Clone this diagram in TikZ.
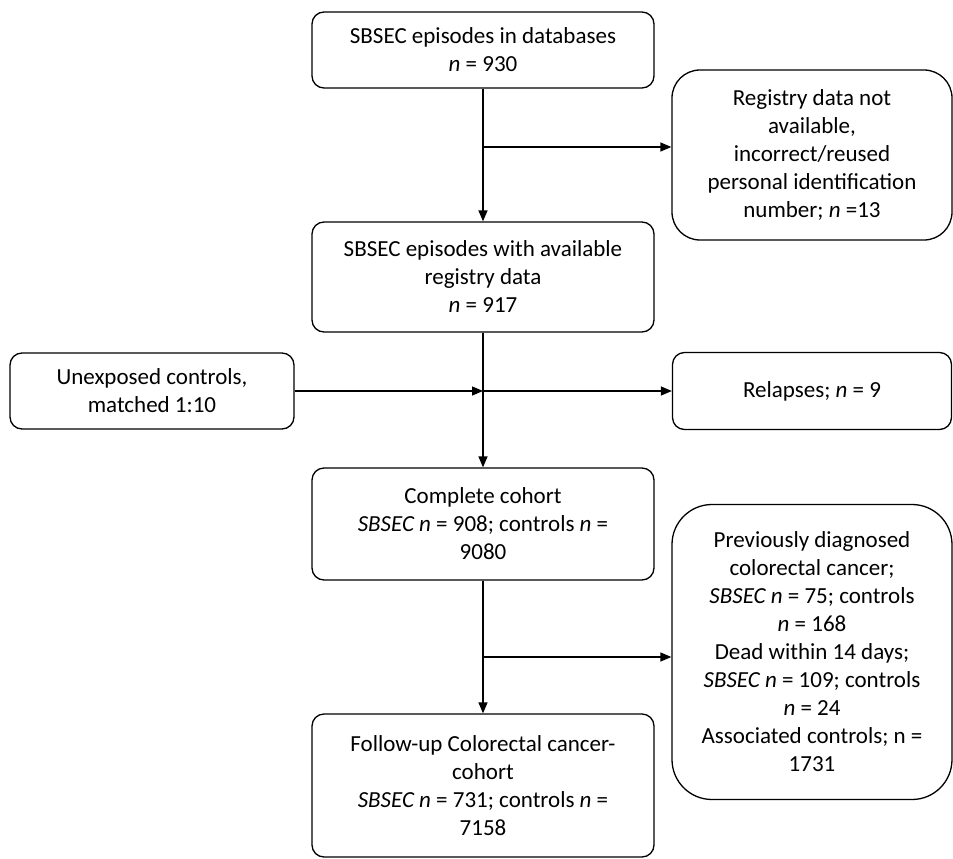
\documentclass[tikz,border=0pt]{standalone}
\usepackage{fontspec}
\setmainfont{Carlito}
\usetikzlibrary{arrows.meta}
\begin{document}
\begin{tikzpicture}[x=1pt,y=-1pt,
  box/.style={draw, line width=1.3pt, rounded corners=12pt, align=center,
    inner sep=0pt, font=\fontsize{23}{28}\selectfont},
  arr/.style={line width=1.3pt, -{Triangle[length=11pt,width=9pt]}}]
\useasboundingbox (0,0) rectangle (953,859);
\node[box, minimum width=342, minimum height=76] (b1) at (483,50)
  {SBSEC episodes in databases\\\textit{n} = 930};
\node[box, rounded corners=28pt, minimum width=280, minimum height=170] (reg) at (812,155)
  {Registry data not\\available,\\incorrect/reused\\personal identification\\number; \textit{n} =13};
\node[box, minimum width=342, minimum height=110] (b2) at (483,277)
  {SBSEC episodes with available\\registry data\\\textit{n} = 917};
\node[box, minimum width=284, minimum height=76] (unexp) at (152,391)
  {Unexposed controls,\\matched 1:10};
\node[box, minimum width=279, minimum height=77] (rel) at (812,391)
  {Relapses; \textit{n} = 9};
\node[box, minimum width=342, minimum height=112] (coh) at (483,524)
  {Complete cohort\\\textit{SBSEC n} = 908; controls \textit{n} =\\9080};
\node[box, rounded corners=40pt, minimum width=280, minimum height=295] (excl) at (812,652)
  {Previously diagnosed\\colorectal cancer;\\\textit{SBSEC n} = 75; controls\\\textit{n} = 168\\Dead within 14 days;\\\textit{SBSEC n} = 109; controls\\\textit{n} = 24\\Associated controls; n =\\1731};
\node[box, minimum width=342, minimum height=143] (fu) at (483,785.5)
  {Follow-up Colorectal cancer-\\cohort\\\textit{SBSEC n} = 731; controls \textit{n} =\\7158};
\coordinate (j1) at (483,147);
\coordinate (j2) at (483,657);
\draw[arr] (b1.south) -- (b2.north);
\draw[arr] (j1) -- (j1 -| reg.west);
\draw[arr] (b2.south) -- (coh.north);
\draw[arr] (unexp.east) -- (unexp.east -| b2.south);
\draw[arr] (b2.south |- rel.west) -- (rel.west);
\draw[arr] (coh.south) -- (fu.north);
\draw[arr] (j2) -- (j2 -| excl.west);
\end{tikzpicture}
\end{document}
